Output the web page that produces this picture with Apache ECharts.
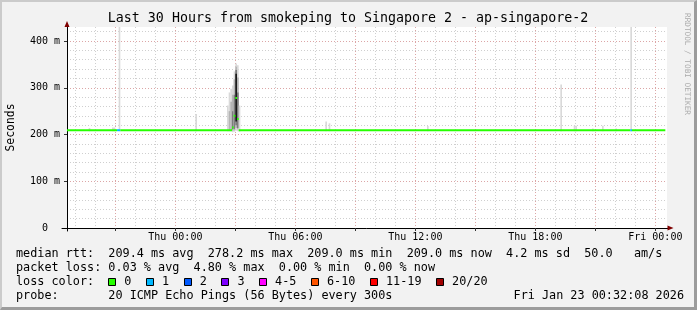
<!DOCTYPE html>
<html><head><meta charset="utf-8">
<script src="https://cdn.jsdelivr.net/npm/echarts@6/dist/echarts.min.js"></script>
<style>
html,body{margin:0;padding:0;background:#f2f2f2;}
#wrap{position:relative;width:697px;height:310px;overflow:hidden;}
#chart{position:absolute;left:0;top:0;width:697px;height:310px;}
#frame{position:absolute;left:0;top:0;width:697px;height:310px;box-sizing:border-box;border-top:2px solid #cbcbcb;border-left:2px solid #cbcbcb;border-right:3px solid #9c9c9c;border-bottom:3px solid #9c9c9c;pointer-events:none;}
</style></head><body>
<div id="wrap"><div id="chart"></div><div id="frame"></div></div>
<script>
// ---------- data ----------
const titleText = 'Last 30 Hours from smokeping to Singapore 2 - ap-singapore-2';
const yAxisTitle = 'Seconds';
const sideText = 'RRDTOOL / TOBI OETIKER';
const timeMin = '21 18:35', timeMax = '23 00:35';
const xLabelTimes = ['22 00:00', '22 06:00', '22 12:00', '22 18:00', '23 00:00'];
const xLabelTexts = ['Thu 00:00', 'Thu 06:00', 'Thu 12:00', 'Thu 18:00', 'Fri 00:00'];
const yLabelValues = [0, 100, 200, 300, 400];
const yLabelTexts = ['0  ', '100 m', '200 m', '300 m', '400 m'];
const yMax = 430;

// median rtt runs (ms), loss class index
const medianStart = ['21 18:35', '21 21:05', '21 21:15', '22 02:50', '22 02:55', '22 03:00', '22 03:05', '22 03:10', '22 22:45', '22 22:50'];
const medianEnd   = ['21 21:05', '21 21:15', '22 02:50', '22 02:55', '22 03:00', '22 03:05', '22 03:10', '22 22:45', '22 22:50', '23 00:30'];
const medianValue = [209.2, 209.2, 209.2, 215, 240, 278.2, 233, 209.2, 209.2, 209.0];
const medianLoss  = [0, 1, 0, 0, 0, 0, 0, 0, 1, 0];

// smoke bands (ms) with shade index
const smokeStart = ['21 19:40', '21 20:50', '21 21:10', '22 01:00',
  '22 02:35', '22 02:40', '22 02:40', '22 02:45', '22 02:45', '22 02:50', '22 02:50', '22 02:50',
  '22 02:55', '22 02:55', '22 02:55', '22 03:00', '22 03:00', '22 03:00', '22 03:00',
  '22 03:05', '22 03:05', '22 03:05', '22 03:10',
  '22 07:30', '22 07:40', '22 12:35', '22 19:15', '22 19:55', '22 20:00', '22 20:50', '22 21:20', '22 22:00', '22 22:45'];
const smokeEnd = ['21 19:45', '21 21:00', '21 21:15', '22 01:05',
  '22 02:40', '22 02:45', '22 02:45', '22 02:50', '22 02:50', '22 02:55', '22 02:55', '22 02:55',
  '22 03:00', '22 03:00', '22 03:00', '22 03:05', '22 03:05', '22 03:05', '22 03:05',
  '22 03:10', '22 03:10', '22 03:10', '22 03:15',
  '22 07:35', '22 07:45', '22 12:40', '22 19:20', '22 20:00', '22 20:05', '22 20:55', '22 21:25', '22 22:05', '22 22:50'];
const smokeLow = [207, 207, 207, 207,
  207, 207, 209, 207, 209, 205, 208, 211,
  206, 209, 212, 208, 214, 220, 228,
  207, 211, 214, 206,
  207, 207, 207, 207, 207, 207, 207, 207, 207, 207];
const smokeHigh = [214, 215, 450, 244,
  262, 290, 250, 298, 270, 305, 285, 250,
  335, 318, 285, 352, 345, 338, 330,
  348, 322, 290, 262,
  228, 224, 218, 307, 219, 219, 213, 219, 213, 450];
const smokeShade = [0, 0, 0, 0,
  0, 0, 1, 0, 1, 0, 1, 2,
  0, 1, 2, 0, 1, 2, 4,
  0, 1, 2, 0,
  0, 0, 0, 0, 0, 0, 0, 0, 0, 0];

// statistics
const rttStats = [209.4, 278.2, 209.0, 209.0]; // avg max min now
const rttSd = 4.2;
const rttAmps = 50.0;
const lossStats = [0.03, 4.80, 0.00, 0.00];
const lossLabels = ['0', '1', '2', '3', '4-5', '6-10', '11-19', '20/20'];
const lossColors = ['#26ff00', '#00b8ff', '#0059ff', '#7e00ff', '#ff00ff', '#ff5500', '#ff0000', '#a00000'];
const probeText = 'probe:       20 ICMP Echo Pings (56 Bytes) every 300s';
const dateText = 'Fri Jan 23 00:32:08 2026';

// ---------- styles ----------
const MONO = '"DejaVu Sans Mono", monospace';
const smokeColors = ['#d9d9d9', '#b4b4b4', '#7c7c7c', '#3c3c3c', '#1a1a1a'];
const gridGrey = '#cfcfcf';
const gridRed = '#dca6a6';

function T(s) {
  const [d, hm] = s.split(' ');
  const [h, m] = hm.split(':').map(Number);
  return new Date(2026, 0, +d, h, m).getTime();
}
const tMin = T(timeMin), tMax = T(timeMax);
const HOUR = 3600e3;
const hourGrey = [], hourRed = [];
for (let t = Math.ceil(tMin / HOUR) * HOUR; t <= tMax; t += HOUR) {
  if (new Date(t).getHours() % 3 === 0) hourRed.push(t); else hourGrey.push(t);
}
const yGrey = [], yRed = [];
for (let v = 20; v < yMax; v += 20) { if (v % 100 === 0) yRed.push(v); else yGrey.push(v); }
const xLabelVals = xLabelTimes.map(T);

const smokeData = smokeStart.map((s, i) => [T(s), T(smokeEnd[i]), smokeLow[i], smokeHigh[i], smokeShade[i]]);
const medianData = medianStart.map((s, i) => [T(s), T(medianEnd[i]), medianValue[i], medianLoss[i]]);

const f1 = v => v.toFixed(1), f2 = v => v.toFixed(2);
const line1 = 'median rtt:  ' + f1(rttStats[0]) + ' ms avg  ' + f1(rttStats[1]) + ' ms max  ' + f1(rttStats[2]) + ' ms min  ' + f1(rttStats[3]) + ' ms now  ' + f1(rttSd) + ' ms sd  ' + f1(rttAmps) + '   am/s';
const line2 = 'packet loss: ' + f2(lossStats[0]) + ' % avg  ' + f2(lossStats[1]) + ' % max  ' + f2(lossStats[2]) + ' % min  ' + f2(lossStats[3]) + ' % now';

const CW = 7.1, FS = 11.8;
const legendY = [254, 268, 282, 296];
const graphics = [];
function txt(x, y, text, extra) {
  graphics.push(Object.assign({ type: 'text', x: x, y: y, silent: true,
    style: Object.assign({ text: text, fontFamily: MONO, fontSize: FS, fill: '#000', verticalAlign: 'middle', align: 'left' }, extra && extra.style) },
    extra && extra.el));
}
txt(348, 19, titleText, { style: { fontSize: 13.3, align: 'center' } });
txt(11, 127.5, yAxisTitle, { style: { fontSize: 11.4, align: 'center' }, el: { rotation: Math.PI / 2 } });
txt(687, 64, sideText, { style: { fontSize: 7.7, align: 'center', fill: '#ababab' }, el: { rotation: -Math.PI / 2 } });
txt(16, legendY[0], line1);
txt(16, legendY[1], line2);
txt(16, legendY[2], 'loss color:');
let bx = 16 + 13 * CW;
lossLabels.forEach((lab, i) => {
  graphics.push({ type: 'rect', silent: true, shape: { x: Math.round(bx) + 0.5, y: 278.5, width: 7, height: 7 },
    style: { fill: lossColors[i], stroke: '#000', lineWidth: 1 } });
  txt(bx + 16, legendY[2], lab);
  bx = bx + 16 + lab.length * CW + 14.6;
});
txt(16, legendY[3], probeText);
txt(684, legendY[3], dateText, { style: { align: 'right' } });

const chart = echarts.init(document.getElementById('chart'), null, { renderer: 'canvas' });
const common = { type: 'value', min: tMin, max: tMax };
chart.setOption({
  animation: false,
  backgroundColor: '#f2f2f2',
  grid: [
    { left: 67, right: 30, top: 27, bottom: 82, show: true, backgroundColor: '#ffffff', borderWidth: 0 },
    { left: 62, right: 26.5, top: 24, bottom: 79, show: false }
  ],
  xAxis: [
    Object.assign({}, common, { gridIndex: 0, position: 'bottom', axisLine: { show: false },
      axisTick: { show: false, customValues: hourGrey },
      splitLine: { show: true, lineStyle: { color: gridGrey, type: [1, 2], width: 1 } },
      axisLabel: { show: true, customValues: xLabelVals, margin: 4, fontFamily: MONO, fontSize: 10, color: '#000',
        formatter: v => { const i = xLabelVals.indexOf(v); return i >= 0 ? xLabelTexts[i] : ''; } } }),
    Object.assign({}, common, { gridIndex: 0, position: 'bottom', axisLine: { show: false },
      axisTick: { show: true, customValues: hourRed, length: 3, lineStyle: { color: '#333' } },
      splitLine: { show: true, lineStyle: { color: gridRed, type: [1, 2], width: 1 } },
      axisLabel: { show: false } }),
    Object.assign({}, common, { gridIndex: 1, position: 'bottom', offset: -3,
      axisLine: { show: true, lineStyle: { color: '#000', width: 1 } },
      axisTick: { show: false }, axisLabel: { show: false }, splitLine: { show: false } }),
    Object.assign({}, common, { gridIndex: 1, position: 'bottom', offset: -3,
      axisLine: { show: true, symbol: ['none', 'triangle'], symbolSize: [5, 6], lineStyle: { color: '#7f0000', width: 0 } },
      axisTick: { show: false }, axisLabel: { show: false }, splitLine: { show: false } })
  ],
  yAxis: [
    { type: 'value', gridIndex: 0, min: 0, max: yMax, position: 'left', axisLine: { show: false },
      axisTick: { show: false, customValues: yGrey }, axisLabel: { show: false },
      splitLine: { show: true, lineStyle: { color: gridGrey, type: [1, 2], width: 1 } } },
    { type: 'value', gridIndex: 0, min: 0, max: yMax, position: 'left', axisLine: { show: false },
      axisTick: { show: true, customValues: yRed, length: 3, lineStyle: { color: '#333' } },
      axisLabel: { show: true, customValues: yLabelValues, margin: 7, fontFamily: MONO, fontSize: 10, color: '#000',
        formatter: v => { const i = yLabelValues.indexOf(v); return i >= 0 ? yLabelTexts[i] : ''; } },
      splitLine: { show: true, lineStyle: { color: gridRed, type: [1, 2], width: 1 } } },
    { type: 'value', gridIndex: 1, min: 0, max: 1, position: 'left', offset: -5,
      axisLine: { show: true, lineStyle: { color: '#000', width: 1 } },
      axisTick: { show: false }, axisLabel: { show: false }, splitLine: { show: false } },
    { type: 'value', gridIndex: 1, min: 0, max: 1, position: 'left', offset: -5,
      axisLine: { show: true, symbol: ['none', 'triangle'], symbolSize: [5, 6], lineStyle: { color: '#7f0000', width: 0 } },
      axisTick: { show: false }, axisLabel: { show: false }, splitLine: { show: false } }
  ],
  series: [
    { type: 'custom', xAxisIndex: 0, yAxisIndex: 0, clip: true, silent: true, z: 2,
      encode: { x: [0, 1], y: [2, 3] }, data: smokeData,
      renderItem: (params, api) => {
        const p0 = api.coord([api.value(0), api.value(3)]);
        const p1 = api.coord([api.value(1), api.value(2)]);
        return { type: 'rect', shape: { x: p0[0], y: p0[1], width: p1[0] - p0[0], height: p1[1] - p0[1] },
          style: { fill: smokeColors[api.value(4)] } };
      } },
    { type: 'custom', xAxisIndex: 0, yAxisIndex: 0, clip: true, silent: true, z: 3,
      encode: { x: [0, 1], y: 2 }, data: medianData,
      renderItem: (params, api) => {
        const p0 = api.coord([api.value(0), api.value(2)]);
        const p1 = api.coord([api.value(1), api.value(2)]);
        return { type: 'rect', shape: { x: p0[0], y: p0[1] - 1, width: p1[0] - p0[0], height: 2 },
          style: { fill: lossColors[api.value(3)] } };
      } }
  ],
  graphic: graphics
});
</script></body></html>
